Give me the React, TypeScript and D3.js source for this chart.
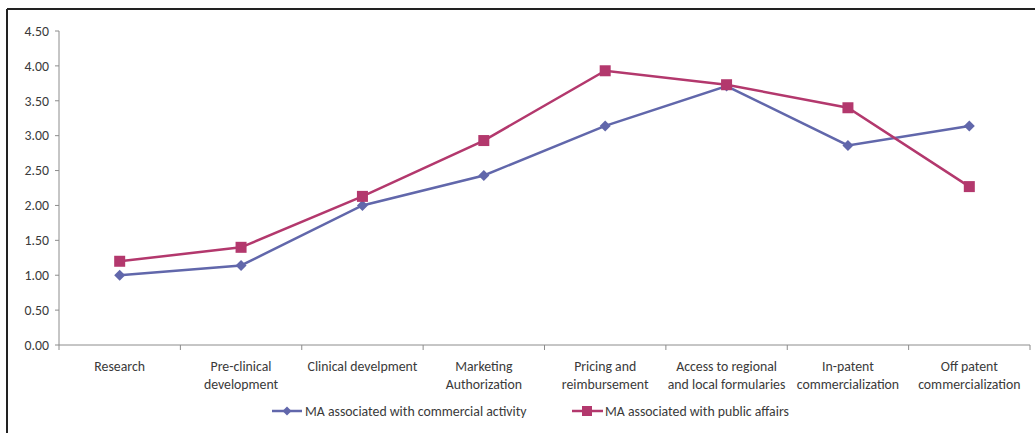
import React from "react";
import * as d3 from "d3";

const categories: string[][] = [
  ["Research"],
  ["Pre-clinical", "development"],
  ["Clinical develpment"],
  ["Marketing", "Authorization"],
  ["Pricing and", "reimbursement"],
  ["Access to regional", "and local formularies"],
  ["In-patent", "commercialization"],
  ["Off patent", "commercialization"],
];

const commercial: number[] = [1.0, 1.14, 2.0, 2.43, 3.14, 3.71, 2.86, 3.14];
const publicAffairs: number[] = [1.2, 1.4, 2.13, 2.93, 3.93, 3.73, 3.4, 2.27];

const yTicks: number[] = [0, 0.5, 1, 1.5, 2, 2.5, 3, 3.5, 4, 4.5];

const seriesNames = [
  "MA associated with commercial activity",
  "MA associated with public affairs",
];

const BLUE = "#6167AB";
const RED = "#B3386D";
const FONT = "Carlito, Lato, 'Liberation Sans', sans-serif";
const FS = 13.8;

export default function App() {
  const W = 1035;
  const H = 433;
  const left = 59;
  const right = 1030;
  const top = 31;
  const bottom = 345;

  const x = d3
    .scaleBand<number>()
    .domain(categories.map((_, i) => i))
    .range([left, right])
    .paddingInner(0)
    .paddingOuter(0);
  const y = d3.scaleLinear().domain([0, 4.5]).range([bottom, top]);

  const cx = (i: number) => (x(i) as number) + x.bandwidth() / 2;
  const line = d3
    .line<number>()
    .x((_, i) => cx(i))
    .y((d) => y(d));

  const diamond = (px: number, py: number, r: number) =>
    `M${px},${py - r}L${px + r},${py}L${px},${py + r}L${px - r},${py}Z`;

  const boundaries = d3.range(categories.length + 1).map((i) => left + i * x.bandwidth());

  return (
    <svg
      width={W}
      height={H}
      style={{ position: "absolute", left: 0, top: 0, background: "#fff" }}
      fontFamily={FONT}
    >
      {/* frame */}
      <line x1={7} y1={9} x2={W} y2={9} stroke="#222" strokeWidth={2} />
      <line x1={7} y1={9} x2={7} y2={H} stroke="#222" strokeWidth={2} />

      {/* y axis */}
      <line x1={left} y1={top} x2={left} y2={bottom} stroke="#8c8c8c" strokeWidth={1} />
      {yTicks.map((t) => (
        <g key={t}>
          <line x1={left - 4} x2={left} y1={y(t)} y2={y(t)} stroke="#8c8c8c" />
          <text
            x={49}
            y={y(t)}
            dy="0.35em"
            textAnchor="end"
            fontSize={FS}
            fill="#3a3a3a"
          >
            {t.toFixed(2)}
          </text>
        </g>
      ))}

      {/* x axis */}
      <line x1={left} y1={bottom} x2={right} y2={bottom} stroke="#8c8c8c" strokeWidth={1} />
      {boundaries.map((b, i) => (
        <line key={i} x1={b} x2={b} y1={bottom} y2={bottom + 5} stroke="#8c8c8c" />
      ))}
      {categories.map((lines, i) => (
        <text key={i} textAnchor="middle" fontSize={FS} fill="#3a3a3a">
          {lines.map((l, j) => (
            <tspan key={j} x={cx(i)} y={371 + j * 18}>
              {l}
            </tspan>
          ))}
        </text>
      ))}

      {/* series */}
      <path d={line(commercial) ?? ""} fill="none" stroke={BLUE} strokeWidth={2.5} />
      <path d={line(publicAffairs) ?? ""} fill="none" stroke={RED} strokeWidth={2.5} />
      {commercial.map((v, i) => (
        <path key={i} d={diamond(cx(i), y(v), 5.5)} fill={BLUE} />
      ))}
      {publicAffairs.map((v, i) => (
        <rect key={i} x={cx(i) - 5.5} y={y(v) - 5.5} width={11} height={11} fill={RED} />
      ))}

      {/* legend */}
      <g fontSize={FS} fill="#3a3a3a">
        <line x1={272} x2={302} y1={411} y2={411} stroke={BLUE} strokeWidth={2.5} />
        <path d={diamond(287, 411, 4.5)} fill={BLUE} />
        <text x={305} y={411} dy="0.35em">
          {seriesNames[0]}
        </text>
        <line x1={572} x2={603} y1={411} y2={411} stroke={RED} strokeWidth={2.5} />
        <rect x={582} y={406} width={10} height={10} fill={RED} />
        <text x={605} y={411} dy="0.35em">
          {seriesNames[1]}
        </text>
      </g>
    </svg>
  );
}
